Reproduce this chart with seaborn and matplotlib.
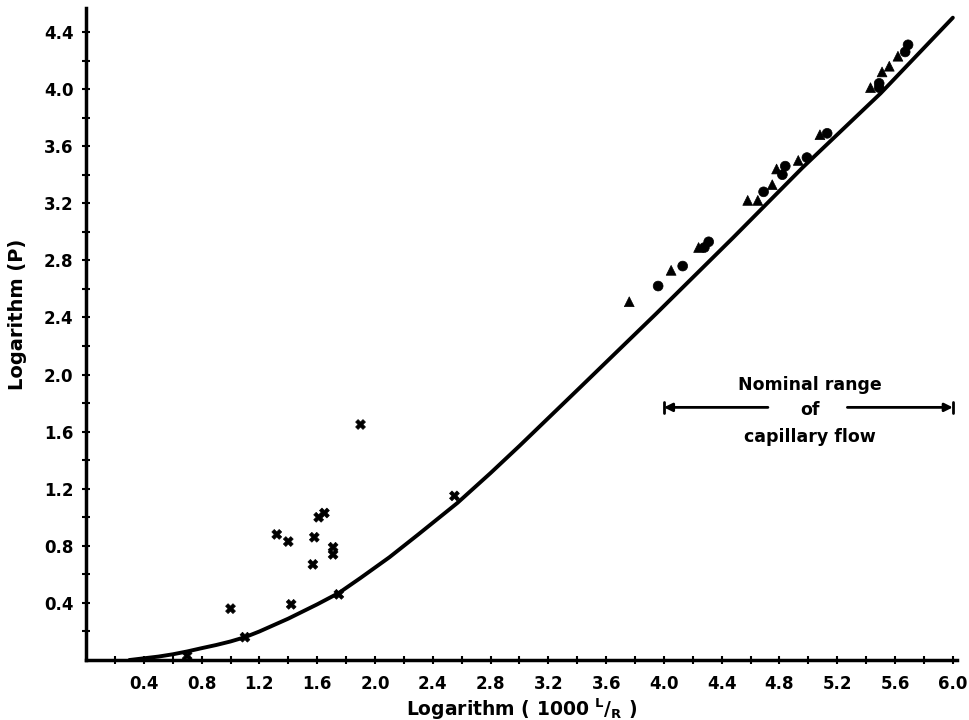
import matplotlib
matplotlib.use("Agg")
import matplotlib.pyplot as plt
import numpy as np
import pandas as pd
import seaborn as sns

# smooth correlation curve
curve_x = [0.3, 0.4, 0.5, 0.6, 0.7, 0.8, 0.9, 1.0, 1.1, 1.2, 1.3, 1.4, 1.5, 1.6, 1.75, 1.9, 2.1, 2.3, 2.57, 2.8,
           3.0, 3.42, 3.95, 4.48, 4.96, 5.5, 6.0]
curve_y = [0.0, 0.012, 0.024, 0.04, 0.06, 0.083, 0.105, 0.13, 0.16, 0.2, 0.245, 0.29, 0.34, 0.39, 0.47, 0.575,
           0.72, 0.88, 1.10, 1.31, 1.50, 1.91, 2.43, 2.96, 3.45, 3.97, 4.50]

# crosses (low range)
cross_x = [0.70, 1.00, 1.10, 1.32, 1.40, 1.42, 1.57, 1.58, 1.61, 1.65, 1.71, 1.71, 1.75, 1.90, 2.55]
cross_y = [0.03, 0.36, 0.16, 0.88, 0.83, 0.39, 0.67, 0.86, 1.00, 1.03, 0.79, 0.74, 0.46, 1.65, 1.15]

# triangles
tri_x = [3.76, 4.05, 4.24, 4.58, 4.65, 4.75, 4.78, 4.93, 5.08, 5.43, 5.51, 5.56, 5.62]
tri_y = [2.51, 2.73, 2.89, 3.22, 3.22, 3.33, 3.44, 3.50, 3.68, 4.01, 4.12, 4.16, 4.23]

# circles
circ_x = [3.96, 4.13, 4.28, 4.31, 4.69, 4.82, 4.84, 4.99, 5.13, 5.49, 5.49, 5.67, 5.69]
circ_y = [2.62, 2.76, 2.89, 2.93, 3.28, 3.40, 3.46, 3.52, 3.69, 4.01, 4.04, 4.26, 4.31]

x_ticks = [0.4, 0.8, 1.2, 1.6, 2.0, 2.4, 2.8, 3.2, 3.6, 4.0, 4.4, 4.8, 5.2, 5.6, 6.0]
y_ticks = [0.4, 0.8, 1.2, 1.6, 2.0, 2.4, 2.8, 3.2, 3.6, 4.0, 4.4]

sns.set_theme(style="white")
plt.rcParams["font.family"] = ["DejaVu Sans"]
plt.rcParams["font.weight"] = "bold"
plt.rcParams["text.color"] = "black"
plt.rcParams["axes.labelcolor"] = "black"
plt.rcParams["xtick.color"] = "black"
plt.rcParams["ytick.color"] = "black"

fig = plt.figure(figsize=(9.69, 7.2), dpi=100)
ax = fig.add_axes([0.0888, 0.0833, 0.899, 0.906])

curve = pd.DataFrame({"x": curve_x, "y": curve_y})
sns.lineplot(data=curve, x="x", y="y", color="black", linewidth=2.8, ax=ax, sort=False)

pts = pd.concat([
    pd.DataFrame({"x": cross_x, "y": cross_y, "kind": "cross"}),
    pd.DataFrame({"x": tri_x, "y": tri_y, "kind": "tri"}),
    pd.DataFrame({"x": circ_x, "y": circ_y, "kind": "circ"}),
])
sns.scatterplot(data=pts, x="x", y="y", style="kind",
                markers={"cross": "X", "tri": "^", "circ": "o"},
                color="black", s=50, edgecolor="black", linewidth=0.5,
                legend=False, ax=ax, zorder=3)

# capillary flow range annotation
ax.text(5.01, 1.93, "Nominal range", ha="center", va="center", fontsize=12.5, fontweight="bold")
ax.text(5.01, 1.75, "of", ha="center", va="center", fontsize=12.5, fontweight="bold")
ax.text(5.01, 1.56, "capillary flow", ha="center", va="center", fontsize=12.5, fontweight="bold")
ax.annotate("", xy=(4.0, 1.77), xytext=(4.72, 1.77),
            arrowprops=dict(arrowstyle="-|>", color="black", lw=2, mutation_scale=12, shrinkA=0, shrinkB=0))
ax.annotate("", xy=(6.0, 1.77), xytext=(5.27, 1.77),
            arrowprops=dict(arrowstyle="-|>", color="black", lw=2, mutation_scale=12, shrinkA=0, shrinkB=0))
ax.plot([4.0, 4.0], [1.73, 1.81], color="black", lw=2)
ax.plot([6.0, 6.0], [1.73, 1.81], color="black", lw=2)

ax.set_xlim(0, 6.03)
ax.set_ylim(0, 4.57)
ax.set_xticks(x_ticks)
ax.set_yticks(y_ticks)
ax.set_xticks(np.arange(0.2, 6.01, 0.4), minor=True)
ax.set_yticks(np.arange(0.2, 4.5, 0.4), minor=True)
ax.set_xticklabels([f"{v:.1f}" for v in x_ticks], fontsize=12, fontweight="bold")
ax.set_yticklabels([f"{v:.1f}" for v in y_ticks], fontsize=12, fontweight="bold")
ax.tick_params(axis="both", which="both", direction="inout", length=6, width=1.5, color="black", bottom=True, left=True)
ax.tick_params(axis="x", pad=8)
ax.tick_params(axis="y", pad=6)

for side in ["top", "right"]:
    ax.spines[side].set_visible(False)
for side in ["left", "bottom"]:
    ax.spines[side].set_color("black")
    ax.spines[side].set_linewidth(2.5)

ax.set_xlabel(r"Logarithm ( 1000 $\mathregular{^L/_R}$ )", fontsize=13.5, fontweight="bold", labelpad=2)
ax.set_ylabel("Logarithm (P)", fontsize=14, fontweight="bold")
ax.yaxis.set_label_coords(-0.068, 0.53)

fig.savefig("out.png", dpi=100)
